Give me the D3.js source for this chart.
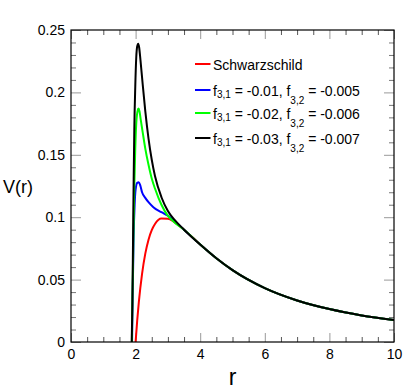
<!DOCTYPE html>
<html>
<head>
<meta charset="utf-8">
<script src="https://cdn.jsdelivr.net/npm/d3@7"></script>
<style>
  body { margin: 0; background: #fff; }
  text { font-family: "Liberation Sans", Arial, Helvetica, sans-serif; }
</style>
</head>
<body>
<div id="chart"></div>
<script>
// Tick values and labels
var xTicks = [0, 2, 4, 6, 8, 10];
var xTickLabels = ["0", "2", "4", "6", "8", "10"];
var yTicks = [0, 0.05, 0.1, 0.15, 0.2, 0.25];
var yTickLabels = ["0", "0.05", "0.1", "0.15", "0.2", "0.25"];

// Shared tail (all curves coincide beyond r ~ 3.5)
var tailR = [3.5, 4, 4.5, 5, 6, 7, 8, 9, 10];
var tailV = [0.0900, 0.0781, 0.0671, 0.0576, 0.0432, 0.0333, 0.0264, 0.0213, 0.0176];

// Schwarzschild
var schwR = [2.0, 2.05, 2.1, 2.2, 2.3, 2.4, 2.5, 2.6, 2.8, 3.0, 3.2];
var schwV = [0, 0.0173, 0.0319, 0.0546, 0.0708, 0.0820, 0.0896, 0.0945, 0.0989, 0.0988, 0.0961];

// f31 = -0.01, f32 = -0.005
var blueR = [1.89, 1.91, 1.94, 1.97, 2.0, 2.05, 2.1, 2.15, 2.2, 2.3, 2.4, 2.55, 2.8, 3.0, 3.2];
var blueV = [0, 0.04, 0.085, 0.11, 0.122, 0.1275, 0.128, 0.125, 0.12, 0.1155, 0.112, 0.108, 0.104, 0.1012, 0.097];

// f31 = -0.02, f32 = -0.006
var greenR = [1.885, 1.9, 1.93, 1.96, 1.99, 2.02, 2.06, 2.09, 2.12, 2.16, 2.22, 2.3, 2.4, 2.5, 2.6, 2.8, 3.0, 3.2];
var greenV = [0, 0.03, 0.08, 0.125, 0.155, 0.175, 0.185, 0.187, 0.185, 0.178, 0.168, 0.155, 0.142, 0.131, 0.123, 0.11, 0.101, 0.096];

// f31 = -0.03, f32 = -0.007
var blackR = [1.88, 1.9, 1.92, 1.94, 1.96, 1.99, 2.02, 2.05, 2.08, 2.11, 2.15, 2.2, 2.3, 2.4, 2.5, 2.6, 2.8, 3.0, 3.2];
var blackV = [0, 0.03, 0.08, 0.13, 0.17, 0.205, 0.228, 0.237, 0.239, 0.236, 0.226, 0.212, 0.185, 0.163, 0.146, 0.133, 0.116, 0.105, 0.098];

var seriesNames = ["Schwarzschild", "f31 = -0.01, f32 = -0.005", "f31 = -0.02, f32 = -0.006", "f31 = -0.03, f32 = -0.007"];
var seriesColors = ["#ff0000", "#0000ff", "#00ff00", "#000000"];
var legendF31 = ["-0.01", "-0.02", "-0.03"];
var legendF32 = ["-0.005", "-0.006", "-0.007"];

var W = 404, H = 391;
var margin = { top: 30, right: 10, bottom: 49, left: 71 };

var svg = d3.select("#chart").append("svg")
    .attr("width", W)
    .attr("height", H);

var x = d3.scaleLinear().domain([0, 10]).range([margin.left, W - margin.right]);
var y = d3.scaleLinear().domain([0, 0.25]).range([H - margin.bottom, margin.top]);

var xMinor = d3.range(0, 10.01, 0.5).filter(function(v) { return v % 2 !== 0; });
var yMinor = d3.range(0, 0.2501, 0.01).filter(function(v) { return Math.abs(Math.round(v * 100) % 5) !== 0; });

function styleAxis(g, color) {
    g.select(".domain").remove();
    g.selectAll(".tick line").attr("stroke", color).attr("stroke-width", 1);
    g.selectAll("text").attr("fill", "#000").style("font-size", "14px")
        .style("font-family", "'Liberation Sans', Arial, sans-serif");
}

// bottom
svg.append("g").attr("transform", "translate(0," + y(0) + ")")
    .call(d3.axisBottom(x).tickValues(xMinor).tickSize(-5).tickFormat(""))
    .call(styleAxis, "#555");
svg.append("g").attr("transform", "translate(0," + y(0) + ")")
    .call(d3.axisBottom(x).tickValues(xTicks).tickSize(-9).tickPadding(7)
        .tickFormat(function(d, i) { return xTickLabels[i]; }))
    .call(styleAxis, "#999");
// top
svg.append("g").attr("transform", "translate(0," + y(0.25) + ")")
    .call(d3.axisTop(x).tickValues(xMinor).tickSize(-5).tickFormat(""))
    .call(styleAxis, "#555");
svg.append("g").attr("transform", "translate(0," + y(0.25) + ")")
    .call(d3.axisTop(x).tickValues(xTicks).tickSize(-9).tickFormat(""))
    .call(styleAxis, "#999");
// left
svg.append("g").attr("transform", "translate(" + x(0) + ",0)")
    .call(d3.axisLeft(y).tickValues(yMinor).tickSize(-5).tickFormat(""))
    .call(styleAxis, "#777");
svg.append("g").attr("transform", "translate(" + x(0) + ",0)")
    .call(d3.axisLeft(y).tickValues(yTicks).tickSize(-10).tickPadding(6)
        .tickFormat(function(d, i) { return yTickLabels[i]; }))
    .call(styleAxis, "#999");
// right
svg.append("g").attr("transform", "translate(" + x(10) + ",0)")
    .call(d3.axisRight(y).tickValues(yMinor).tickSize(-5).tickFormat(""))
    .call(styleAxis, "#777");
svg.append("g").attr("transform", "translate(" + x(10) + ",0)")
    .call(d3.axisRight(y).tickValues(yTicks).tickSize(-10).tickFormat(""))
    .call(styleAxis, "#999");

// clip
svg.append("clipPath").attr("id", "clip").append("rect")
    .attr("x", x(0)).attr("y", y(0.25))
    .attr("width", x(10) - x(0)).attr("height", y(0) - y(0.25));

var line = d3.line()
    .x(function(d) { return x(d[0]); })
    .y(function(d) { return y(d[1]); })
    .curve(d3.curveMonotoneX);

function pairs(rs, vs) {
    var a = rs.map(function(r, i) { return [r, vs[i]]; });
    return a.concat(tailR.map(function(r, i) { return [r, tailV[i]]; }));
}

var curves = [pairs(schwR, schwV), pairs(blueR, blueV), pairs(greenR, greenV), pairs(blackR, blackV)];

svg.append("g").attr("clip-path", "url(#clip)")
    .selectAll("path")
    .data(curves)
    .enter()
    .append("path")
    .attr("d", line)
    .attr("fill", "none")
    .attr("stroke", function(d, i) { return seriesColors[i]; })
    .attr("stroke-width", 2)
    .attr("stroke-linejoin", "round");

// frame
svg.append("rect")
    .attr("x", x(0)).attr("y", y(0.25))
    .attr("width", x(10) - x(0)).attr("height", y(0) - y(0.25))
    .attr("fill", "none").attr("stroke", "#000").attr("stroke-width", 1.2);

// axis titles
svg.append("text")
    .attr("x", (x(0) + x(10)) / 2).attr("y", 385)
    .attr("text-anchor", "middle")
    .style("font-size", "23px")
    .text("r");

svg.append("text")
    .attr("x", 3).attr("y", 193)
    .style("font-size", "18px")
    .text("V(r)");

// legend
var legendY = [64, 90, 113, 138];
var legend = svg.append("g");
legendY.forEach(function(ly, i) {
    legend.append("line")
        .attr("x1", 195).attr("x2", 210.5)
        .attr("y1", ly).attr("y2", ly)
        .attr("stroke", seriesColors[i]).attr("stroke-width", 2);
    var t = legend.append("text")
        .attr("x", 213).attr("y", ly + 5.5)
        .style("font-size", "14px");
    if (i === 0) {
        t.text(seriesNames[0]);
    } else {
        t.append("tspan").text("f");
        t.append("tspan").attr("dy", 2).style("font-size", "10px").text("3,1");
        t.append("tspan").attr("dy", -2).text(" = " + legendF31[i - 1] + ", f");
        t.append("tspan").attr("dy", 8).style("font-size", "10px").text("3,2");
        t.append("tspan").attr("dy", -8).text(" = " + legendF32[i - 1]);
    }
});
</script>
</body>
</html>
